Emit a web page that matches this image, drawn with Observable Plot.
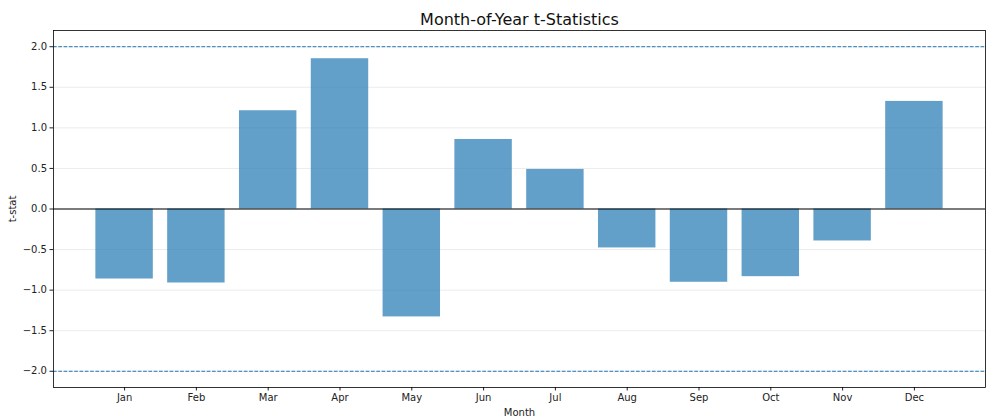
<!DOCTYPE html>
<html>
<head>
<meta charset="utf-8">
<script src="https://cdn.jsdelivr.net/npm/d3@7"></script>
<script src="https://cdn.jsdelivr.net/npm/@observablehq/plot@0.6"></script>
<style>
  html, body { margin: 0; padding: 0; background: #fff; }
  #chart svg { display: block; font-family: "DejaVu Sans", sans-serif; }
</style>
</head>
<body>
<div id="chart"></div>
<script>
const months = ["Jan", "Feb", "Mar", "Apr", "May", "Jun", "Jul", "Aug", "Sep", "Oct", "Nov", "Dec"];
const tstats = [-0.863, -0.912, 1.211, 1.852, -1.33, 0.857, 0.488, -0.48, -0.903, -0.834, -0.394, 1.326];
const yTicks = [-2.0, -1.5, -1.0, -0.5, 0.0, 0.5, 1.0, 1.5, 2.0];
const thresholds = [2, -2];
const title = "Month-of-Year t-Statistics";

const data = months.map((m, i) => ({month: m, t: tstats[i]}));

const chart = Plot.plot({
  width: 1001,
  height: 417,
  marginLeft: 53,
  marginRight: 16,
  marginTop: 30,
  marginBottom: 30,
  style: {fontFamily: "DejaVu Sans, sans-serif", fontSize: "10px", color: "#222", background: "#fff"},
  x: {domain: months, paddingInner: 0.2, paddingOuter: 0.59, round: false, label: null},
  y: {domain: [-2.2, 2.2], label: null},
  marks: [
    Plot.gridY(yTicks, {stroke: "#b0b0b0", strokeOpacity: 0.3, strokeWidth: 0.8}),
    Plot.barY(data, {x: "month", y: "t", fill: "#1f77b4", fillOpacity: 0.7}),
    Plot.ruleY([0], {stroke: "black", strokeWidth: 1}),
    Plot.ruleY(thresholds, {stroke: "#1f77b4", strokeWidth: 1, strokeDasharray: "3.7,1.6"}),
    Plot.axisY(yTicks, {tickFormat: d3.format(".1f"), tickSize: 3.5, tickPadding: 3, fontSize: 10,
      label: "t-stat", labelAnchor: "center", labelArrow: "none", labelOffset: 45}),
    Plot.axisX({tickSize: 3.5, tickPadding: 3, fontSize: 10,
      label: "Month", labelAnchor: "center", labelArrow: "none", labelOffset: 28}),
    Plot.frame({stroke: "black", strokeWidth: 0.8}),
    Plot.text([title], {frameAnchor: "top", dy: -11, fontSize: 16, fill: "#111", lineAnchor: "middle"})
  ]
});
document.getElementById("chart").appendChild(chart);
</script>
</body>
</html>
